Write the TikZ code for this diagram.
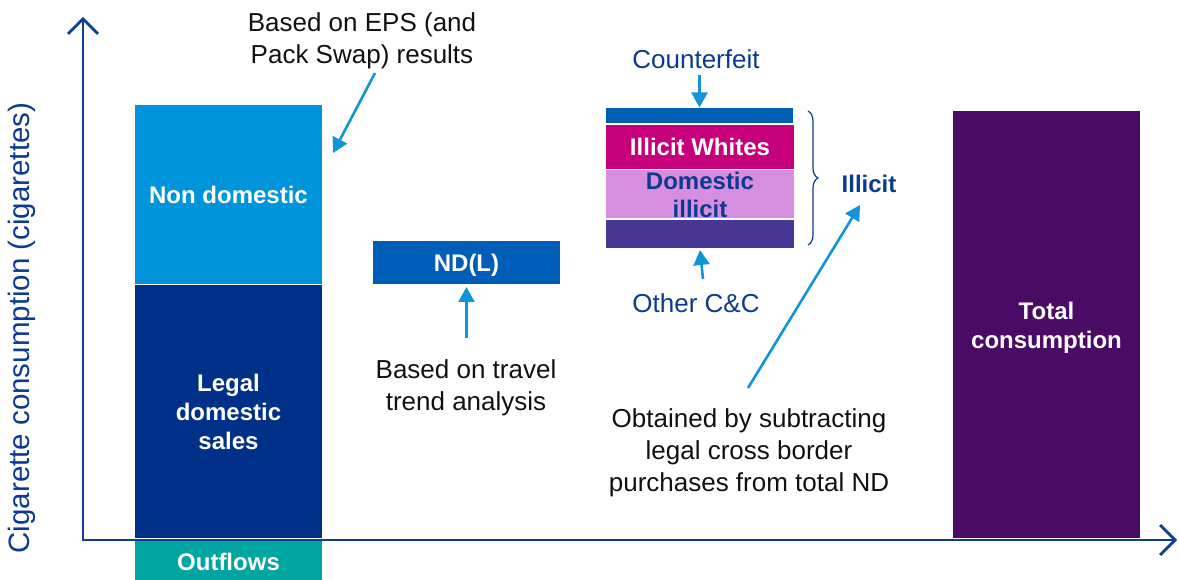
\documentclass[tikz,border=0pt]{standalone}
\usepackage{fontspec}
\setmainfont{Liberation Sans}
\usetikzlibrary{arrows.meta,decorations.pathreplacing}
\definecolor{cNonDom}{HTML}{0095DA}
\definecolor{cLegal}{HTML}{003087}
\definecolor{cOut}{HTML}{00A4A0}
\definecolor{cNDL}{HTML}{005EB8}
\definecolor{cCF}{HTML}{0060B6}
\definecolor{cIW}{HTML}{C5007A}
\definecolor{cDI}{HTML}{D78EDF}
\definecolor{cOC}{HTML}{483694}
\definecolor{cTotal}{HTML}{4A0B64}
\definecolor{annblue}{HTML}{1295D8}
\definecolor{axisblue}{HTML}{0F3F94}
\definecolor{dkblue}{HTML}{0B3A8F}
\definecolor{txtblack}{HTML}{111111}
\begin{document}
\begin{tikzpicture}[x=1pt,y=-1pt,
  bar/.style={draw=none, inner sep=0pt, outer sep=0pt, anchor=center, text=white,
    font=\fontsize{24}{29}\selectfont\bfseries, align=center},
  capc/.style={text height=17.2pt, text depth=0pt},
  note/.style={font=\fontsize{26}{32}\selectfont, align=center, text=txtblack, inner sep=0pt},
  bluenote/.style={font=\fontsize{26}{32}\selectfont, align=center, text=dkblue, inner sep=0pt},
  ann/.style={draw=annblue, line width=2.6pt, -{Triangle[length=15pt,width=16pt]}},
  axis/.style={draw=axisblue, line width=2.8pt,
    {Straight Barb[length=15pt,width=30pt,line width=2.8pt]}-{Straight Barb[length=15pt,width=30pt,line width=2.8pt]}},
  bracestyle/.style={draw=dkblue, line width=1.2pt, decorate, decoration={brace, amplitude=10pt}}
]
\useasboundingbox (0,0) rectangle (1179,580);

% first column
\node[bar, capc, fill=cNonDom, minimum width=187, minimum height=179] (nd) at (228.5,195) {Non domestic};
\node[bar, fill=cLegal, minimum width=187, minimum height=252.5] (legal) at (228.5,411.75) {Legal\\domestic\\sales};
\node[bar, capc, fill=cOut, minimum width=187, minimum height=42] (out) at (228.5,562) {Outflows};

% ND(L)
\node[bar, capc, fill=cNDL, minimum width=187, minimum height=43] (ndl) at (466.5,262.5) {ND(L)};

% illicit stack
\node[bar, fill=cCF, minimum width=187, minimum height=15] (cfband) at (699.5,116) {};
\node[bar, capc, fill=cIW, minimum width=188, minimum height=44] (iw) at (700,147) {Illicit Whites};
\node[bar, fill=cDI, minimum width=188, minimum height=48] (di) at (700,194) {};
\node[bar, text=dkblue] (ditext) at (700,195) {Domestic\\[-1pt]illicit};
\node[bar, fill=cOC, minimum width=188, minimum height=28] (oc) at (700,234) {};

% total
\node[bar, fill=cTotal, minimum width=187, minimum height=427] (total) at (1046.5,324.5) {};
\node[bar] (totaltext) at (1046.5,327.5) {Total\\consumption};

% texts
\node[note] (eps) at (362,41) {Based on EPS (and\\Pack Swap) results};
\node[note] (travel) at (466,388) {Based on travel\\trend analysis};
\node[note] (obt) at (749,453) {Obtained by subtracting\\legal cross border\\purchases from total ND};
\node[bluenote] (cf) at (696,59) {Counterfeit};
\node[bluenote] (ocl) at (696,303) {Other C\&C};
\node[bar, capc, text=dkblue] (illicit) at (869,184) {Illicit};
\node[bluenote, font=\fontsize{29.5}{34}\selectfont, rotate=90] (ylab) at (22,328) {Cigarette consumption (cigarettes)};

% annotation arrows
\coordinate (epsA) at (375,73);
\coordinate (epsB) at (333,153);
\draw[ann] (epsA) -- (epsB);
\coordinate (trA) at (466.5,338);
\draw[ann, shorten >=3pt] (trA) -- (ndl.south);
\coordinate (cfA) at (699.5,75);
\draw[ann, shorten >=1pt] (cfA) -- (cfband.north);
\coordinate (ocA) at (703,279);
\coordinate (ocB) at (700,250);
\draw[ann] (ocA) -- (ocB);
\coordinate (ilA) at (748,388);
\coordinate (ilB) at (860,205);
\draw[ann] (ilA) -- (ilB);

% brace
\coordinate (brT) at (808,111);
\coordinate (brB) at (808,245);
\draw[bracestyle] (brT) -- (brB);

% axes
\coordinate (ytop) at (83,17);
\coordinate (orig) at (83,540);
\coordinate (xend) at (1177,540);
\draw[axis] (ytop) -- (orig) -- (xend);
\end{tikzpicture}
\end{document}
